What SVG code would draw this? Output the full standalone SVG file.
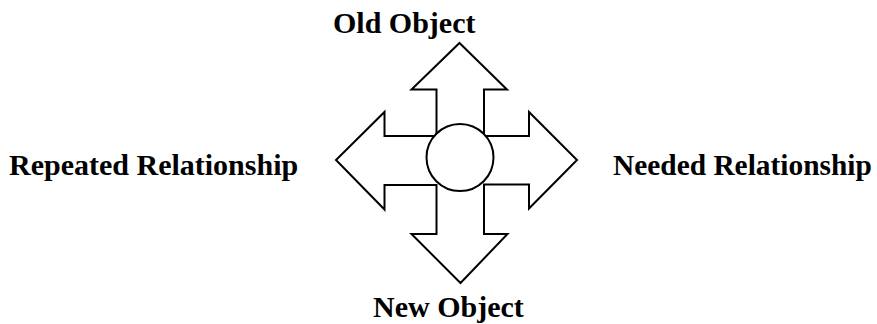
<svg xmlns="http://www.w3.org/2000/svg" width="877" height="324" viewBox="0 0 877 324">
<style>
.lbl{font-family:"Liberation Serif","Times New Roman",serif;font-weight:bold;font-size:30px;fill:#000}
.shape{fill:#fff;stroke:#000;stroke-width:2;stroke-linejoin:miter}
</style>
<rect width="877" height="324" fill="#fff"/>
<g id="connectors">
<polygon id="arrows" class="shape" points="459.5,43 507,89.5 484,89.5 484,136 529,136 529,112 577,160 529,208.5 529,184.5 484,184.5 484,234 507.5,234 460.5,283 411.5,234 436.5,234 436.5,185 384.5,185 384.5,209.5 336,160 384.5,112 384.5,136 436.5,136 436.5,89.5 411.5,89.5"/>
</g>
<g id="center"><circle class="shape" cx="460" cy="157.5" r="33.5"/></g>
<g id="old"><text class="lbl" x="333" y="33">Old Object</text></g>
<g id="new"><text class="lbl" x="373" y="317">New Object</text></g>
<g id="repeated"><text class="lbl" x="9" y="175">Repeated Relationship</text></g>
<g id="needed"><text class="lbl" x="613" y="175" style="font-size:29.4px">Needed Relationship</text></g>
</svg>
